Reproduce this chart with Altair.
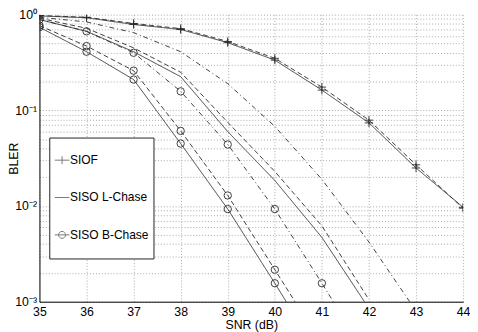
import altair as alt
import pandas as pd

# ---- data ----
snr = [35, 36, 37, 38, 39, 40, 41, 42, 43, 44]

siof_solid = [0.97, 0.93, 0.79, 0.70, 0.51, 0.335, 0.163, 0.074, 0.025, 0.0097]
siof_dashed = [0.98, 0.94, 0.81, 0.715, 0.525, 0.35, 0.175, 0.079, 0.027, 0.0095]

lchase_solid = [0.89, 0.67, 0.41, 0.225, 0.06, 0.0185, 0.0047, 0.00085]
lchase_dashed = [0.92, 0.72, 0.45, 0.25, 0.075, 0.023, 0.0062, 0.00105]
lchase_dashdot = [0.94, 0.84, 0.65, 0.41, 0.19, 0.068, 0.019, 0.0042, 0.0008]

bchase_solid = [0.74, 0.41, 0.21, 0.045, 0.0093, 0.00156, 0.00025]
bchase_dashed = [0.77, 0.47, 0.26, 0.061, 0.0129, 0.00216, 0.00036]
bchase_dashdot = [0.89, 0.67, 0.40, 0.158, 0.044, 0.0093, 0.00156, 0.00025]

groups = ["SIOF", "SISO L-Chase", "SISO B-Chase"]
variants = ["solid", "dashed", "dashdot"]

x_ticks = [35, 36, 37, 38, 39, 40, 41, 42, 43, 44]
y_ticks = [k * 10 ** e for e in (-3, -2, -1) for k in range(1, 10)] + [1]
y_tick_labels = {1: "10\u2070", 0.1: "10\u207b\u00b9", 0.01: "10\u207b\u00b2", 0.001: "10\u207b\u00b3"}

series = [
    ("SIOF", "solid", siof_solid),
    ("SIOF", "dashed", siof_dashed),
    ("SISO L-Chase", "solid", lchase_solid),
    ("SISO L-Chase", "dashed", lchase_dashed),
    ("SISO L-Chase", "dashdot", lchase_dashdot),
    ("SISO B-Chase", "solid", bchase_solid),
    ("SISO B-Chase", "dashed", bchase_dashed),
    ("SISO B-Chase", "dashdot", bchase_dashdot),
]

rows = []
for g, v, vals in series:
    for x, y in zip(snr, vals):
        rows.append({"snr": x, "bler": y, "group": g, "variant": v, "series": g + " " + v})
df = pd.DataFrame(rows)

label_expr = " : ".join(
    f"abs(datum.value - {val}) < {val * 1e-6} ? '{lab}'" for val, lab in y_tick_labels.items()
) + " : ''"

FONT = "Liberation Sans"
LINE = "#2a2a2a"

x_enc = alt.X(
    "snr:Q",
    scale=alt.Scale(domain=[35, 44], nice=False),
    axis=alt.Axis(
        values=x_ticks, format="d", title="SNR (dB)", ticks=False,
        labelPadding=4, labelFontSize=12.5, labelFont=FONT, labelColor="#000",
        titleFont=FONT, titleFontSize=12.5, titleFontWeight="normal", titleColor="#000",
        titleY=17, titleBaseline="top",
        grid=True, gridColor="#a8a8a8", gridDash=[1, 2], gridWidth=1,
        domainColor="#000", labelFlush=False,
    ),
)
y_enc = alt.Y(
    "bler:Q",
    scale=alt.Scale(type="log", domain=[0.001, 1], nice=False),
    axis=alt.Axis(
        values=y_ticks, labelExpr=label_expr, title="BLER", ticks=False,
        labelPadding=3, labelFontSize=12.5, labelFont=FONT, labelColor="#000",
        titleFont=FONT, titleFontSize=12.5, titleFontWeight="normal", titleColor="#000",
        titleX=-22, titleY=146, titleAngle=270, titleBaseline="alphabetic", titleAlign="center",
        grid=True, gridColor="#a8a8a8", gridDash=[1, 2], gridWidth=1,
        domainColor="#000", labelFlush=False,
    ),
)

base = alt.Chart(df)

lines = base.mark_line(strokeWidth=0.9, clip=True, color=LINE).encode(
    x=x_enc,
    y=y_enc,
    detail="series:N",
    strokeDash=alt.StrokeDash(
        "variant:N",
        scale=alt.Scale(domain=variants, range=[[1, 0], [5, 3], [5, 3, 1, 3]]),
        legend=None,
    ),
)

plus_marks = base.transform_filter(
    (alt.datum.group == "SIOF") & (alt.datum.bler >= 0.001)
).mark_point(
    shape="M-1,0H1M0,-1V1", size=72, filled=False, strokeWidth=0.9, color=LINE, opacity=1, clip=True
).encode(x="snr:Q", y="bler:Q")

circle_marks = base.transform_filter(
    (alt.datum.group == "SISO B-Chase") & (alt.datum.bler >= 0.001)
).mark_point(
    shape="circle", size=56, filled=False, strokeWidth=0.9, color=LINE, opacity=1, clip=True
).encode(x="snr:Q", y="bler:Q")

# legend keys: 15px line, marker, and zero-length spacers that set the row height
spacer = "M0,-2.25h0M0,2.25h0"
legend_shapes = [
    "M-1,0H1M0,-0.53V0.53" + spacer,
    "M-1,0H1" + spacer,
    "M-1,0H1M0.47,0A0.47,0.47 0 1 1 -0.47,0A0.47,0.47 0 1 1 0.47,0" + spacer,
]

legend_layer = base.mark_point(opacity=0, filled=False, clip=True, color="#777").encode(
    x="snr:Q",
    y="bler:Q",
    shape=alt.Shape(
        "group:N",
        scale=alt.Scale(domain=groups, range=legend_shapes),
        legend=alt.Legend(
            title="\u00a0", titleFontSize=8, titlePadding=2, titleFont=FONT,
            orient="none", legendX=10, legendY=125,
            symbolSize=225, symbolStrokeColor="#777", symbolStrokeWidth=1,
            symbolFillColor="transparent", symbolOpacity=1,
            labelFont=FONT, labelFontSize=12.2, labelColor="#000", labelOffset=0,
            padding=5, rowPadding=0, strokeColor="#222", fillColor="#ffffff",
            cornerRadius=0, labelLimit=200,
        ),
    ),
)

chart = (
    alt.layer(lines, plus_marks, circle_marks, legend_layer)
    .resolve_scale(shape="independent")
    .properties(
        width=431, height=292,
        autosize=alt.AutoSizeParams(type="none"),
        padding={"left": 32, "top": 4, "right": 7, "bottom": 28},
        background="#ffffff",
    )
    .configure_view(stroke=None)
)

chart.save("out.html", embed_options={"renderer": "svg", "actions": False})
